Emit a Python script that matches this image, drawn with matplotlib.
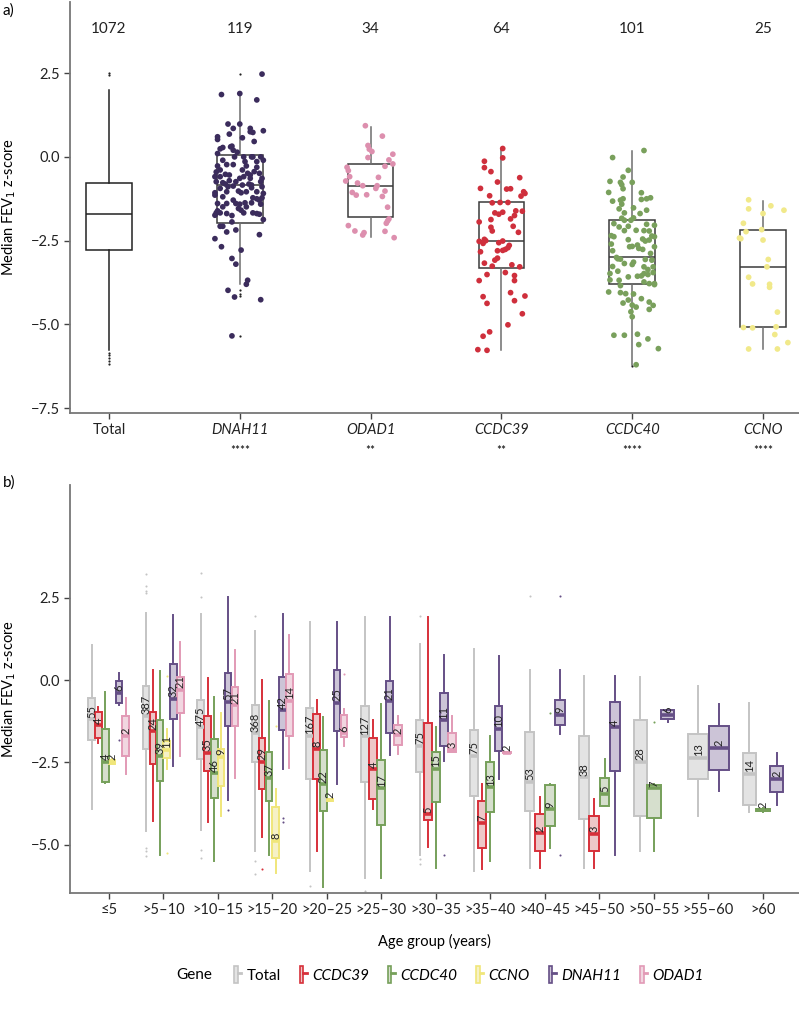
import numpy as np
import matplotlib
matplotlib.use("Agg")
import matplotlib.pyplot as plt
from matplotlib.patches import Patch
from matplotlib.lines import Line2D
from matplotlib.legend_handler import HandlerTuple
import matplotlib.transforms as mtransforms

plt.rcParams['font.family'] = ['Lato', 'DejaVu Sans']

# ---------------- panel a) data ----------------
genes_a = ["Total", "DNAH11", "ODAD1", "CCDC39", "CCDC40", "CCNO"]
counts_a = [1072, 119, 34, 64, 101, 25]
stars_a = ["", "****", "**", "**", "****", "****"]
# whislo, q1, med, q3, whishi
box_a = [
    (-5.77, -2.79, -1.69, -0.77, 2.01),
    (-3.78, -1.96, -0.84, 0.06, 1.90),
    (-2.40, -1.79, -0.86, -0.22, 0.90),
    (-5.77, -3.31, -2.51, -1.36, 0.25),
    (-6.21, -3.78, -3.00, -1.89, 0.18),
    (-5.73, -5.07, -3.29, -2.18, -1.31),
]
fliers_a = [
    [2.50, 2.44, -5.85, -5.92, -6.00, -6.08, -6.18],
    [2.47, -3.98, -4.08, -4.15, -5.35],
    [], [], [-6.25], [],
]

# jittered points: horizontal offset and value
dnah11_dx = [0.17, -0.14, 0.0, 0.13, -0.09, 0.0, -0.05, 0.08, 0.08, 0.10, 0.18, -0.17, -0.17, -0.08, 0.11,
             -0.13, -0.15, -0.06, -0.05, -0.02, -0.17, 0.02, 0.03, 0.09, 0.10, 0.16, -0.13, 0.04, 0.13, -0.10,
             -0.05, -0.17, 0.05, 0.13, -0.18, 0.02, 0.06, 0.08, 0.15, -0.15, -0.11, 0.03, 0.0, -0.08, -0.18,
             -0.13, -0.11, 0.16, 0.09, 0.07, -0.15, -0.09, -0.05, 0.09, 0.17, -0.19, -0.19, 0.01, 0.18, 0.17,
             -0.13, 0.10, 0.13, 0.15, -0.05, -0.10, -0.03, 0.0, 0.04, 0.09, 0.16, -0.01, 0.01, 0.03, -0.17,
             -0.18, -0.19, -0.15, -0.10, -0.06, 0.10, 0.13, 0.15, 0.18, -0.06, -0.15, -0.13, -0.10, -0.03,
             0.15, -0.19, -0.14, 0.01, -0.06, -0.03, 0.06, 0.05, -0.09, -0.04, 0.16, -0.06, -0.07, -0.04,
             -0.15, 0.11, -0.01, 0.05, 0.13, -0.10, -0.19, 0.05, -0.17, 0.18, -0.13, 0.08, -0.08, 0.17, 0.02, -0.03]
dnah11_y = [2.47, 1.86, 1.89, 1.70, 0.98, 0.98, 0.85, 0.85, 0.75, 0.73, 0.78, 0.60, 0.52, 0.68, 0.46,
            0.28, 0.24, 0.32, 0.20, 0.14, 0.10, 0.57, 0.00, 0.00, 0.00, 0.00, -0.10, -0.14, -0.14, -0.23,
            -0.23, -0.27, -0.27, -0.31, -0.45, -0.39, -0.49, -0.54, -0.49, -0.59, -0.52, -0.59, -0.64, -0.71, -0.74,
            -0.77, -0.81, -0.74, -0.84, -0.81, -0.94, -0.89, -0.87, -0.92, -0.89, -1.07, -1.14, -1.07, -1.09, -1.22,
            -1.19, -1.22, -1.25, -1.29, -1.29, -1.39, -1.39, -1.41, -1.37, -1.37, -1.41, -1.54, -1.59, -1.67, -1.61,
            -1.67, -1.74, -1.67, -1.69, -1.75, -1.67, -1.69, -1.71, -1.87, -1.94, -2.07, -2.07, -2.24, -2.18,
            -2.32, -2.44, -2.68, -2.78, -3.03, -3.20, -3.68, -3.80, -3.98, -4.18, -4.26, -5.34, 0.30, 0.00,
            -0.39, -0.44, -1.02, -1.04, -1.04, -1.04, -0.59, -1.49, -1.39, -0.10, -1.49, -0.64, -0.54, -0.64, -0.84, -0.74]
odad1_dx = [-0.04, 0.09, -0.02, -0.01, 0.01, 0.17, -0.02, 0.14, 0.17, 0.11, -0.18, -0.17, -0.16, 0.06, -0.19,
            -0.10, -0.06, 0.05, 0.04, 0.11, -0.14, -0.11, -0.03, 0.09, 0.13, 0.14, 0.13, 0.12, -0.17, -0.12,
            -0.05, -0.06, 0.11, 0.18]
odad1_y = [0.93, 0.62, 0.34, 0.23, 0.16, 0.08, -0.02, -0.09, -0.21, -0.28, -0.31, -0.41, -0.59, -0.61, -0.72,
           -0.78, -0.86, -0.86, -0.94, -1.02, -1.06, -1.14, -1.13, -1.18, -1.50, -1.85, -1.91, -1.98, -2.05, -2.21,
           -2.26, -2.33, -2.22, -2.41]
ccdc39_dx = [0.01, 0.01, -0.13, -0.13, -0.08, 0.14, -0.03, -0.16, 0.04, 0.07, 0.17, 0.18, 0.15, -0.09, -0.07,
             -0.01, 0.05, 0.11, 0.16, -0.05, -0.02, 0.01, 0.10, 0.07, -0.08, -0.17, 0.09, -0.08, -0.07, 0.13,
             -0.17, -0.13, -0.12, -0.14, -0.02, 0.01, 0.06, 0.05, 0.03, 0.01, -0.03, -0.16, -0.03, -0.05, -0.13,
             -0.07, 0.08, 0.14, 0.03, -0.11, 0.10, 0.10, -0.17, 0.07, -0.14, 0.18, -0.11, 0.10, 0.16, 0.05,
             -0.09, -0.14, -0.18, -0.11]
ccdc39_y = [0.25, -0.03, -0.13, -0.32, -0.44, -0.62, -0.75, -0.94, -0.96, -0.95, -1.04, -1.09, -1.17, -1.16, -1.37,
            -1.36, -1.36, -1.61, -1.62, -1.67, -1.71, -1.65, -1.75, -1.85, -1.87, -1.94, -2.07, -2.10, -2.21, -2.25,
            -2.52, -2.46, -2.50, -2.58, -2.56, -2.51, -2.64, -2.71, -2.76, -2.79, -2.80, -2.83, -3.02, -3.08, -3.17,
            -3.26, -3.22, -3.28, -3.45, -3.51, -3.54, -3.69, -3.69, -4.05, -4.17, -4.15, -4.37, -4.29, -4.68, -5.01,
            -5.22, -5.35, -5.75, -5.77]
ccdc40_dx = [0.09, -0.15, -0.03, -0.07, -0.17, -0.09, -0.08, -0.07, 0.0, -0.18, 0.07, 0.07, 0.11, 0.14, -0.15,
             -0.09, -0.07, -0.08, -0.10, 0.01, 0.11, -0.06, -0.08, -0.06, -0.01, 0.01, -0.03, -0.10, 0.11, 0.17,
             -0.06, 0.09, 0.13, 0.15, 0.17, -0.16, -0.14, 0.08, 0.10, 0.13, -0.03, -0.16, -0.02, 0.0, 0.05,
             0.08, -0.15, -0.12, -0.11, -0.09, 0.01, 0.0, 0.10, 0.15, 0.09, 0.16, -0.15, -0.11, 0.12, 0.09,
             0.07, 0.04, 0.12, 0.16, -0.17, -0.10, 0.09, 0.13, 0.17, 0.17, -0.09, -0.18, -0.09, -0.05, 0.01,
             0.07, -0.03, -0.07, 0.13, 0.16, 0.0, 0.03, 0.13, -0.01, 0.0, -0.14, -0.06, 0.04, 0.12, 0.05,
             0.20, 0.03, -0.14, 0.04, -0.06, 0.14, -0.03, 0.06, -0.17, 0.03, 0.17]
ccdc40_y = [0.19, -0.02, -0.40, -0.60, -0.73, -0.76, -0.83, -0.95, -0.76, -1.06, -1.07, -1.27, -1.25, -1.22, -1.32,
            -1.29, -1.25, -1.41, -1.55, -1.52, -1.59, -1.67, -1.83, -1.89, -1.89, -1.82, -2.07, -2.09, -2.01, -2.04,
            -2.20, -2.20, -2.21, -2.36, -2.38, -2.35, -2.38, -2.45, -2.51, -2.48, -2.47, -2.60, -2.68, -2.67, -2.73,
            -2.76, -2.80, -3.00, -3.04, -3.05, -3.14, -3.21, -3.06, -3.08, -3.28, -3.28, -3.27, -3.41, -3.36, -3.48,
            -3.55, -3.56, -3.51, -3.45, -3.67, -3.68, -3.73, -3.78, -3.78, -3.81, -3.84, -4.03, -4.05, -4.08, -4.09,
            -4.23, -4.27, -4.36, -4.33, -4.43, -4.42, -4.48, -4.55, -4.62, -4.77, -5.32, -5.32, -5.29, -5.43, -5.60,
            -5.72, -6.20, -1.99, -2.63, -3.18, -2.88, -3.58, -1.69, -3.48, -2.19, -2.68]
ccno_dx = [-0.11, 0.06, -0.11, 0.16, 0.0, -0.15, -0.13, -0.01, -0.18, -0.17, 0.0, 0.04, 0.03, -0.11, -0.08,
           0.05, 0.05, 0.11, -0.15, -0.08, 0.10, 0.09, 0.19, -0.11, 0.11]
ccno_y = [-1.28, -1.46, -1.55, -1.59, -1.69, -1.98, -2.23, -2.17, -2.42, -2.44, -2.48, -3.06, -3.28, -3.59, -3.79,
          -3.80, -3.89, -4.63, -5.09, -5.10, -5.07, -5.30, -5.54, -5.73, -5.73]
points_dx = [None, dnah11_dx, odad1_dx, ccdc39_dx, ccdc40_dx, ccno_dx]
points_y = [None, dnah11_y, odad1_y, ccdc39_y, ccdc40_y, ccno_y]
point_colors = [None, "#3b2c5c", "#dd8fae", "#cf2f3c", "#79a05c", "#f1e98a"]

# ---------------- panel b) data ----------------
age_groups = ["≤5", ">5–10", ">10–15", ">15–20", ">20–25", ">25–30", ">30–35",
              ">35–40", ">40–45", ">45–50", ">50–55", ">55–60", ">60"]
gene_order = ["Total", "CCDC39", "CCDC40", "CCNO", "DNAH11", "ODAD1"]
# (n, whislo, q1, med, q3, whishi) per age group, None = no patients
total_b = [
    (55, -3.93, -1.83, -1.19, -0.54, 1.08),
    (387, -4.58, -2.10, -1.09, -0.19, 2.04),
    (475, -4.56, -2.40, -1.43, -0.59, 2.02),
    (368, -5.20, -2.50, -1.62, -0.77, 1.50),
    (167, -5.80, -3.00, -1.69, -0.85, 1.78),
    (127, -6.00, -3.10, -1.71, -0.79, 1.91),
    (75, -5.30, -2.79, -2.00, -1.20, 1.11),
    (75, -5.80, -3.53, -2.31, -1.52, 0.96),
    (53, -5.70, -3.97, -3.10, -1.58, 0.31),
    (38, -5.70, -4.22, -2.95, -1.69, 0.11),
    (28, -5.20, -4.12, -2.49, -1.22, 0.10),
    (13, -4.12, -3.00, -2.36, -1.64, -0.18),
    (14, -4.00, -3.79, -2.85, -2.22, -0.69),
]
ccdc39_b = [
    (4, -1.91, -1.77, -1.37, -0.96, -0.81),
    (24, -4.27, -2.54, -1.56, -0.96, 0.31),
    (35, -4.31, -2.77, -2.21, -1.09, 0.05),
    (29, -4.77, -3.31, -2.49, -1.76, 0.00),
    (8, -5.20, -3.02, -2.09, -1.04, -0.60),
    (4, -3.91, -3.60, -2.71, -1.76, -1.22),
    (5, -5.07, -4.25, -4.08, -1.31, 1.92),
    (7, -5.75, -5.10, -4.33, -3.68, -3.16),
    (2, -5.70, -5.20, -4.66, -4.08, -3.54),
    (3, -5.70, -5.20, -4.68, -4.14, -3.62),
    None, None, None,
]
ccdc40_b = [
    (4, -3.12, -3.10, -2.49, -1.50, -0.35),
    (39, -5.30, -3.06, -2.31, -1.22, 0.28),
    (46, -5.50, -3.58, -2.83, -1.79, -0.50),
    (37, -5.30, -3.68, -2.96, -2.17, -0.62),
    (22, -6.30, -3.97, -3.17, -2.12, -1.13),
    (17, -6.00, -4.41, -3.29, -2.43, -0.73),
    (15, -5.70, -3.70, -2.70, -2.17, -1.44),
    (13, -5.50, -4.00, -3.26, -2.50, -1.69),
    (9, -5.10, -4.44, -3.93, -3.18, -3.16),
    (5, -3.84, -3.84, -3.46, -2.98, -2.39),
    (7, -5.20, -4.20, -3.29, -3.20, -3.16),
    None,
    (2, -4.00, -3.99, -3.95, -3.91, -3.90),
]
ccno_b = [
    (2, -2.56, -2.54, -2.49, -2.43, -2.41),
    (11, -2.70, -2.37, -2.12, -1.85, -1.48),
    (9, -4.12, -3.22, -2.33, -2.10, -1.00),
    (8, -5.85, -5.40, -4.89, -3.87, -3.31),
    (2, -3.66, -3.66, -3.64, -3.62, -3.62),
    None, None, None, None, None, None, None, None,
]
dnah11_b = [
    (6, -0.76, -0.69, -0.39, -0.02, 0.23),
    (32, -2.60, -1.19, -0.56, 0.48, 1.98),
    (57, -3.64, -1.40, -0.66, 0.21, 2.52),
    (42, -2.71, -1.53, -0.92, 0.09, 2.00),
    (25, -3.16, -1.56, -0.69, 0.32, 1.78),
    (21, -2.27, -1.60, -0.64, -0.02, 1.92),
    (11, -2.47, -2.00, -1.22, -0.39, 0.75),
    (10, -2.99, -2.14, -1.48, -0.79, 0.73),
    (9, -1.64, -1.37, -1.06, -0.60, 0.31),
    (4, -5.30, -2.77, -1.43, -0.68, 0.11),
    (6, -1.27, -1.17, -1.05, -0.92, -0.92),
    (2, -3.37, -2.72, -2.06, -1.39, -0.73),
    (2, -3.80, -3.40, -3.00, -2.60, -2.20),
]
odad1_b = [
    (2, -2.85, -2.30, -1.69, -1.10, -0.54),
    (21, -2.30, -1.00, -0.29, 0.08, 1.17),
    (21, -2.98, -1.39, -0.77, -0.21, 0.90),
    (14, -2.67, -1.69, -0.62, 0.19, 1.37),
    (6, -1.99, -1.72, -1.62, -1.06, -0.89),
    (2, -2.26, -1.98, -1.68, -1.37, -1.09),
    (3, -2.17, -2.17, -2.12, -1.62, -1.10),
    (2, -2.23, -2.23, -2.21, -2.19, -2.19),
    None, None, None, None, None,
]
# outliers: {age group index: values}
total_fl = {1: [3.22, 2.87, 2.71, 2.65, -5.10, -5.20, -5.35], 2: [3.27, 2.54, -5.15, -5.40],
            3: [1.95, -5.50, -5.90], 4: [-6.25], 5: [-6.40], 6: [1.94, -5.45, -5.60], 8: [2.56]}
ccdc39_fl = {3: [-5.75]}
ccdc40_fl = {8: [-1.00], 10: [-1.27]}
ccno_fl = {1: [0.12, -5.25], 3: [-1.40]}
dnah11_fl = {0: [-1.83], 2: [-3.95], 3: [-4.20, -4.30], 6: [-5.30], 8: [2.56, -5.30]}
odad1_fl = {4: [0.20]}

data_b = [total_b, ccdc39_b, ccdc40_b, ccno_b, dnah11_b, odad1_b]
fliers_b = [total_fl, ccdc39_fl, ccdc40_fl, ccno_fl, dnah11_fl, odad1_fl]
edge_b = ["#c4c4c4", "#d7303a", "#76a05a", "#f0e67a", "#654f86", "#e29ab6"]
fill_b = ["#e3e3e3", "#edc7c8", "#d6dfcd", "#f6f1c6", "#ccc4d7", "#f1d6e0"]

fig = plt.figure(figsize=(7.99, 10.11), dpi=100)

# ================= panel a =================
ax1 = fig.add_axes([0.0876, 0.5915, 0.9124, 0.4065])
pos_a = np.arange(1, len(genes_a) + 1)
for i, g in enumerate(genes_a):
    lo, q1, med, q3, hi = box_a[i]
    st = [dict(whislo=lo, q1=q1, med=med, q3=q3, whishi=hi, fliers=fliers_a[i])]
    if g == "Total":
        bc, wc = "#222222", "#222222"
    else:
        bc, wc = "#3a3a3a", "#6e6e6e"
    ax1.bxp(st, positions=[pos_a[i]], widths=0.35, showcaps=False, patch_artist=True,
            boxprops=dict(facecolor="none", edgecolor=bc, linewidth=1.1),
            medianprops=dict(color=bc, linewidth=1.1),
            whiskerprops=dict(color=wc, linewidth=1.1),
            flierprops=dict(marker="o", markersize=1.6, markerfacecolor="#222222",
                            markeredgecolor="none"), zorder=2)
    if points_y[i] is not None:
        ax1.scatter(pos_a[i] + np.array(points_dx[i]), points_y[i], s=17,
                    color=point_colors[i], edgecolors="none", zorder=3)
    ax1.text(pos_a[i], 3.81, str(counts_a[i]), ha="center", va="center", fontsize=11, color="#222222")

ax1.set_xlim(0.702, 6.275)
ax1.set_ylim(-7.64, 4.62)
ax1.set_yticks([2.5, 0.0, -2.5, -5.0, -7.5])
ax1.set_yticklabels(["2.5", "0.0", "−2.5", "−5.0", "−7.5"])
ax1.set_xticks(pos_a)
ax1.set_xticklabels(genes_a)
for lab in ax1.get_xticklabels()[1:]:
    lab.set_fontstyle("italic")
trans = mtransforms.blended_transform_factory(ax1.transData, ax1.transAxes)
for i, s in enumerate(stars_a):
    if s:
        ax1.text(pos_a[i], -0.092, s, transform=trans, ha="center", va="center", fontsize=8.5)
ax1.set_ylabel("Median FEV$_1$ z-score", fontsize=10.5)
ax1.yaxis.set_label_coords(-0.072, 0.5)

# ================= panel b =================
ax2 = fig.add_axes([0.0876, 0.1167, 0.9124, 0.4036])
dodge = 0.75
for a in range(len(age_groups)):
    present = [k for k in range(len(gene_order)) if data_b[k][a] is not None]
    slot = dodge / len(present)
    for j, k in enumerate(present):
        n, lo, q1, med, q3, hi = data_b[k][a]
        x = a + 1 - dodge / 2 + slot * (j + 0.5)
        st = [dict(whislo=lo, q1=q1, med=med, q3=q3, whishi=hi, fliers=fliers_b[k].get(a, []))]
        ax2.bxp(st, positions=[x], widths=slot * 0.96, showcaps=False, patch_artist=True,
                boxprops=dict(facecolor=fill_b[k], edgecolor=edge_b[k], linewidth=1.4),
                medianprops=dict(color=edge_b[k], linewidth=2.6, solid_capstyle="butt"),
                whiskerprops=dict(color=edge_b[k], linewidth=1.4),
                flierprops=dict(marker="o", markersize=1.5, markerfacecolor=edge_b[k],
                                markeredgecolor="none"), zorder=2 + k * 0.01)
        ax2.text(x, med + 0.05, str(n), rotation=90, ha="center", va="bottom", fontsize=8,
                 color="#222222", zorder=5)

ax2.set_xlim(0.29, 13.66)
ax2.set_ylim(-6.47, 5.93)
ax2.set_yticks([2.5, 0.0, -2.5, -5.0])
ax2.set_yticklabels(["2.5", "0.0", "−2.5", "−5.0"])
ax2.set_xticks(np.arange(1, len(age_groups) + 1))
ax2.set_xticklabels(age_groups)
ax2.set_xlabel("Age group (years)", fontsize=10.5, labelpad=12)
ax2.set_ylabel("Median FEV$_1$ z-score", fontsize=10.5)
ax2.yaxis.set_label_coords(-0.072, 0.5)

for ax in (ax1, ax2):
    for sp in ("top", "right"):
        ax.spines[sp].set_visible(False)
    for sp in ("left", "bottom"):
        ax.spines[sp].set_color("#777777")
        ax.spines[sp].set_linewidth(1.3)
    ax.tick_params(colors="#444444", labelcolor="#222222", labelsize=10.5, length=4, width=1)

fig.text(0.003, 0.99, "a)", fontsize=11, va="center")
fig.text(0.003, 0.523, "b)", fontsize=11, va="center")

# legend
handles = []
for k in range(len(gene_order)):
    handles.append((Patch(facecolor=fill_b[k], edgecolor=edge_b[k], linewidth=1.2),
                    Line2D([], [], color=edge_b[k], linewidth=2)))
leg = fig.legend(handles, gene_order, loc="center left", bbox_to_anchor=(0.293, 0.036), ncol=6,
                 frameon=False, fontsize=11, handlelength=0.45, handleheight=1.4,
                 handletextpad=0.35, columnspacing=1.25, borderaxespad=0, borderpad=0,
                 handler_map={tuple: HandlerTuple(ndivide=None)})
for t in leg.get_texts()[1:]:
    t.set_fontstyle("italic")
fig.text(0.243, 0.036, "Gene", fontsize=11, ha="center", va="center")

fig.savefig("out.png", dpi=100)
